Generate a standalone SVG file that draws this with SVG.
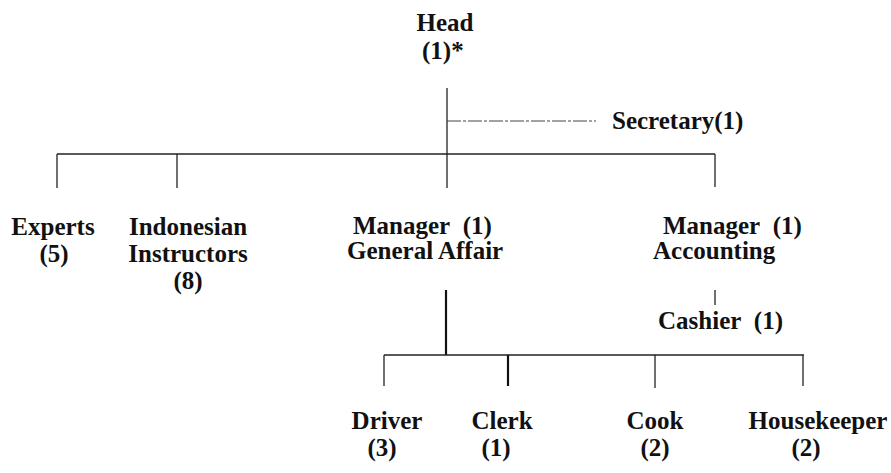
<svg xmlns="http://www.w3.org/2000/svg" width="891" height="473" viewBox="0 0 891 473">
<style>
text{font-family:"Liberation Serif","Times New Roman",serif;font-size:25px;font-weight:bold;fill:#111}
.c{text-anchor:middle}
.ln{stroke:#222;stroke-width:1.3;fill:none}
.th{stroke:#111;stroke-width:2.2;fill:none}
.ds{stroke:#444;stroke-width:1;fill:none;stroke-dasharray:14 2 3 2}
</style>
<rect width="891" height="473" fill="#fff"/>
<g id="connectors">
<line class="ln" x1="447" y1="88" x2="447" y2="188"/>
<line class="ds" x1="447" y1="121" x2="596" y2="121"/>
<line class="ln" x1="57" y1="154" x2="715" y2="154"/>
<line class="ln" x1="57" y1="154" x2="57" y2="188"/>
<line class="ln" x1="177" y1="154" x2="177" y2="188"/>
<line class="ln" x1="715" y1="154" x2="715" y2="187"/>
<line class="th" x1="446" y1="290" x2="446" y2="355"/>
<line class="ln" x1="715" y1="290" x2="715" y2="305"/>
<line class="ln" x1="384" y1="355" x2="804" y2="355"/>
<line class="ln" x1="384" y1="355" x2="384" y2="386"/>
<line class="th" x1="508" y1="355" x2="508" y2="386"/>
<line class="ln" x1="655" y1="355" x2="655" y2="388"/>
<line class="ln" x1="803" y1="355" x2="803" y2="386"/>
</g>
<g id="head"><text class="c" x="445" y="31">Head</text><text x="422" y="59">(1)*</text></g>
<g id="secretary"><text x="612" y="129">Secretary(1)</text></g>
<g id="experts"><text class="c" x="53" y="235">Experts</text><text class="c" x="54" y="262">(5)</text></g>
<g id="instructors"><text class="c" x="188" y="235">Indonesian</text><text class="c" x="188" y="262">Instructors</text><text class="c" x="188" y="289">(8)</text></g>
<g id="manager-ga"><text x="353" y="234">Manager&#160; (1)</text><text x="347" y="259">General Affair</text></g>
<g id="manager-acc"><text x="663" y="234">Manager&#160; (1)</text><text x="653" y="259">Accounting</text></g>
<g id="cashier"><text x="658" y="329">Cashier&#160; (1)</text></g>
<g id="driver"><text class="c" x="387" y="429">Driver</text><text class="c" x="382" y="456">(3)</text></g>
<g id="clerk"><text class="c" x="502" y="429">Clerk</text><text class="c" x="496" y="456">(1)</text></g>
<g id="cook"><text class="c" x="655" y="429">Cook</text><text class="c" x="655" y="456">(2)</text></g>
<g id="housekeeper"><text class="c" x="818" y="429">Housekeeper</text><text class="c" x="806" y="456">(2)</text></g>
</svg>
